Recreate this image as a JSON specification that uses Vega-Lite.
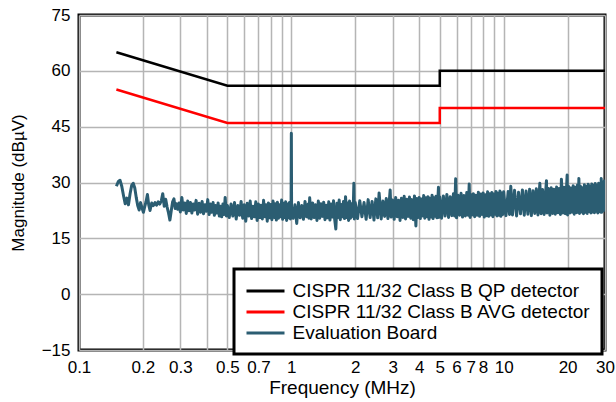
{
  "$schema": "https://vega.github.io/schema/vega-lite/v6.json",
  "width": 526,
  "height": 335,
  "autosize": "none",
  "padding": {"left": 79, "top": 15, "right": 11, "bottom": 52},
  "background": "white",
  "datasets": {
    "qp": [
      {"f": 0.15, "v": 65}, {"f": 0.5, "v": 56}, {"f": 5, "v": 56}, {"f": 5, "v": 60}, {"f": 30, "v": 60}
    ],
    "avg": [
      {"f": 0.15, "v": 55}, {"f": 0.5, "v": 46}, {"f": 5, "v": 46}, {"f": 5, "v": 50}, {"f": 30, "v": 50}
    ],
    "board": [
      {"f":0.150,"v":29.0},{"f":0.153,"v":30.2},{"f":0.156,"v":30.6},{"f":0.159,"v":29.0},{"f":0.162,"v":26.5},{"f":0.165,"v":24.3},{"f":0.168,"v":25.8},{"f":0.171,"v":24.0},{"f":0.174,"v":27.0},{"f":0.177,"v":29.2},{"f":0.180,"v":29.8},{"f":0.183,"v":28.6},{"f":0.186,"v":26.0},{"f":0.189,"v":23.8},{"f":0.192,"v":22.6},{"f":0.195,"v":24.6},{"f":0.198,"v":23.2},{"f":0.201,"v":22.0},{"f":0.204,"v":23.5},{"f":0.207,"v":24.9},{"f":0.210,"v":26.8},{"f":0.213,"v":24.0},{"f":0.216,"v":22.5},{"f":0.220,"v":24.5},{"f":0.224,"v":23.8},{"f":0.228,"v":24.6},{"f":0.232,"v":23.9},{"f":0.236,"v":24.8},{"f":0.240,"v":24.2},{"f":0.244,"v":25.0},{"f":0.248,"v":27.0},{"f":0.252,"v":23.6},{"f":0.256,"v":25.5},{"f":0.260,"v":23.4},{"f":0.264,"v":21.8},{"f":0.268,"v":19.9},{"f":0.272,"v":22.5},{"f":0.276,"v":24.8},{"f":0.280,"v":25.6},{"f":0.284,"v":23.0},{"f":0.288,"v":24.3},{"f":0.292,"v":22.8},{"f":0.296,"v":24.5},{"f":0.300,"v":22.1},{"f":0.305,"v":26.0},{"f":0.310,"v":22.6},{"f":0.315,"v":24.5},{"f":0.320,"v":21.7},{"f":0.325,"v":25.0},{"f":0.330,"v":22.4},{"f":0.335,"v":24.6},{"f":0.340,"v":21.8},{"f":0.345,"v":24.2},{"f":0.350,"v":22.6},{"f":0.356,"v":25.2},{"f":0.362,"v":21.5},{"f":0.368,"v":24.4},{"f":0.374,"v":22.0},{"f":0.380,"v":24.9},{"f":0.386,"v":21.6},{"f":0.392,"v":24.0},{"f":0.398,"v":22.3},{"f":0.404,"v":25.4},{"f":0.410,"v":21.4},{"f":0.416,"v":24.2},{"f":0.422,"v":22.0},{"f":0.428,"v":24.6},{"f":0.434,"v":21.2},{"f":0.440,"v":23.8},{"f":0.446,"v":21.8},{"f":0.452,"v":24.5},{"f":0.458,"v":21.0},{"f":0.464,"v":23.6},{"f":0.470,"v":20.8},{"f":0.476,"v":24.2},{"f":0.482,"v":21.4},{"f":0.488,"v":26.0},{"f":0.494,"v":21.0},{"f":0.500,"v":23.8},
      {"f":0.51,"v":20.6},{"f":0.52,"v":24.2},{"f":0.53,"v":21.0},{"f":0.54,"v":24.6},{"f":0.55,"v":20.2},{"f":0.56,"v":23.8},{"f":0.57,"v":21.2},{"f":0.58,"v":24.9},{"f":0.59,"v":20.4},{"f":0.60,"v":24.0},{"f":0.61,"v":19.6},{"f":0.62,"v":24.4},{"f":0.63,"v":21.0},{"f":0.64,"v":25.0},{"f":0.65,"v":20.3},{"f":0.66,"v":23.6},{"f":0.67,"v":20.8},{"f":0.68,"v":24.8},{"f":0.69,"v":19.8},{"f":0.70,"v":24.2},{"f":0.71,"v":20.6},{"f":0.72,"v":23.9},{"f":0.73,"v":20.2},{"f":0.74,"v":25.2},{"f":0.75,"v":20.8},{"f":0.76,"v":24.0},{"f":0.77,"v":19.6},{"f":0.78,"v":24.5},{"f":0.79,"v":20.5},{"f":0.80,"v":24.1},{"f":0.81,"v":20.0},{"f":0.82,"v":25.0},{"f":0.83,"v":20.6},{"f":0.84,"v":24.3},{"f":0.85,"v":19.9},{"f":0.86,"v":24.7},{"f":0.87,"v":20.4},{"f":0.88,"v":24.0},{"f":0.89,"v":20.8},{"f":0.90,"v":25.3},{"f":0.91,"v":20.1},{"f":0.92,"v":24.4},{"f":0.93,"v":20.6},{"f":0.94,"v":24.8},{"f":0.95,"v":19.8},{"f":0.96,"v":24.2},{"f":0.97,"v":20.5},{"f":0.98,"v":24.6},{"f":0.99,"v":20.2},{"f":0.997,"v":23.0},{"f":1.0,"v":43.2},{"f":1.003,"v":21.5},
      {"f":1.02,"v":20.4},{"f":1.04,"v":24.0},{"f":1.06,"v":19.0},{"f":1.08,"v":24.6},{"f":1.10,"v":20.5},{"f":1.12,"v":23.8},{"f":1.14,"v":20.1},{"f":1.16,"v":24.9},{"f":1.18,"v":20.8},{"f":1.20,"v":24.2},{"f":1.21,"v":20.4},{"f":1.22,"v":25.9},{"f":1.24,"v":20.2},{"f":1.26,"v":24.5},{"f":1.28,"v":20.6},{"f":1.30,"v":24.0},{"f":1.32,"v":19.8},{"f":1.34,"v":25.0},{"f":1.36,"v":20.4},{"f":1.38,"v":24.3},{"f":1.40,"v":20.9},{"f":1.42,"v":24.7},{"f":1.44,"v":20.0},{"f":1.46,"v":23.9},{"f":1.48,"v":20.5},{"f":1.50,"v":24.8},{"f":1.52,"v":19.9},{"f":1.54,"v":24.2},{"f":1.56,"v":20.7},{"f":1.58,"v":25.1},{"f":1.60,"v":20.1},{"f":1.62,"v":17.5},{"f":1.64,"v":24.4},{"f":1.66,"v":20.6},{"f":1.68,"v":25.3},{"f":1.70,"v":20.0},{"f":1.72,"v":24.1},{"f":1.74,"v":20.8},{"f":1.76,"v":24.9},{"f":1.78,"v":20.3},{"f":1.80,"v":26.2},{"f":1.82,"v":20.6},{"f":1.84,"v":24.5},{"f":1.86,"v":19.8},{"f":1.88,"v":25.0},{"f":1.90,"v":20.4},{"f":1.92,"v":24.3},{"f":1.94,"v":20.9},{"f":1.96,"v":24.8},{"f":1.97,"v":29.8},{"f":1.98,"v":20.2},{"f":2.00,"v":24.6},
      {"f":2.05,"v":20.3},{"f":2.10,"v":25.1},{"f":2.15,"v":20.8},{"f":2.20,"v":24.6},{"f":2.25,"v":20.1},{"f":2.30,"v":25.4},{"f":2.35,"v":20.6},{"f":2.40,"v":24.9},{"f":2.45,"v":19.9},{"f":2.50,"v":25.6},{"f":2.55,"v":20.5},{"f":2.59,"v":27.2},{"f":2.65,"v":20.2},{"f":2.70,"v":25.0},{"f":2.75,"v":20.9},{"f":2.80,"v":25.7},{"f":2.85,"v":20.3},{"f":2.92,"v":28.0},{"f":2.95,"v":20.7},{"f":3.00,"v":25.3},{"f":3.05,"v":20.1},{"f":3.10,"v":26.0},{"f":3.15,"v":20.8},{"f":3.20,"v":25.2},{"f":3.25,"v":19.8},{"f":3.30,"v":25.8},{"f":3.35,"v":20.6},{"f":3.40,"v":26.3},{"f":3.45,"v":20.2},{"f":3.50,"v":25.5},{"f":3.55,"v":20.9},{"f":3.60,"v":26.1},{"f":3.65,"v":20.4},{"f":3.70,"v":25.4},{"f":3.75,"v":20.0},{"f":3.80,"v":26.4},{"f":3.86,"v":18.3},{"f":3.90,"v":25.7},{"f":3.95,"v":20.6},{"f":4.00,"v":26.0},{"f":4.05,"v":20.3},{"f":4.10,"v":25.6},{"f":4.15,"v":21.0},{"f":4.20,"v":26.5},{"f":4.25,"v":20.4},{"f":4.30,"v":25.9},{"f":4.35,"v":20.8},{"f":4.40,"v":26.2},{"f":4.45,"v":20.1},{"f":4.50,"v":25.8},{"f":4.55,"v":20.7},{"f":4.60,"v":26.6},{"f":4.65,"v":20.3},{"f":4.70,"v":25.9},{"f":4.75,"v":20.9},{"f":4.80,"v":26.3},{"f":4.85,"v":20.5},{"f":4.93,"v":28.7},{"f":4.95,"v":20.6},{"f":5.00,"v":26.1},
      {"f":5.1,"v":20.4},{"f":5.2,"v":26.4},{"f":5.3,"v":21.0},{"f":5.4,"v":26.8},{"f":5.5,"v":20.6},{"f":5.6,"v":26.2},{"f":5.7,"v":21.1},{"f":5.8,"v":27.0},{"f":5.87,"v":21.0},{"f":5.94,"v":31.0},{"f":6.0,"v":20.5},{"f":6.1,"v":26.6},{"f":6.2,"v":21.2},{"f":6.3,"v":27.1},{"f":6.4,"v":20.7},{"f":6.5,"v":26.5},{"f":6.6,"v":21.0},{"f":6.7,"v":27.3},{"f":6.8,"v":21.2},{"f":6.88,"v":29.6},{"f":6.95,"v":20.6},{"f":7.0,"v":26.8},{"f":7.1,"v":21.3},{"f":7.2,"v":27.0},{"f":7.3,"v":20.8},{"f":7.4,"v":26.6},{"f":7.5,"v":21.2},{"f":7.6,"v":27.4},{"f":7.7,"v":20.9},{"f":7.8,"v":26.9},{"f":7.9,"v":21.4},{"f":8.0,"v":27.2},{"f":8.1,"v":20.7},{"f":8.2,"v":26.7},{"f":8.3,"v":21.1},{"f":8.4,"v":27.5},{"f":8.5,"v":20.9},{"f":8.6,"v":27.0},{"f":8.7,"v":21.3},{"f":8.8,"v":27.3},{"f":8.9,"v":20.8},{"f":9.0,"v":26.9},{"f":9.1,"v":21.5},{"f":9.2,"v":27.6},{"f":9.3,"v":21.0},{"f":9.4,"v":27.1},{"f":9.5,"v":21.2},{"f":9.6,"v":27.7},{"f":9.7,"v":20.9},{"f":9.8,"v":27.2},{"f":9.9,"v":21.4},{"f":10.0,"v":27.5},
      {"f":10.25,"v":21.1},{"f":10.5,"v":27.6},{"f":10.65,"v":21.4},{"f":10.8,"v":29.0},{"f":11.0,"v":21.3},{"f":11.25,"v":27.9},{"f":11.5,"v":21.0},{"f":11.75,"v":27.4},{"f":12.0,"v":21.6},{"f":12.25,"v":28.0},{"f":12.5,"v":21.2},{"f":12.75,"v":27.7},{"f":13.0,"v":21.5},{"f":13.25,"v":28.2},{"f":13.5,"v":21.1},{"f":13.75,"v":27.8},{"f":14.0,"v":21.7},{"f":14.25,"v":28.3},{"f":14.5,"v":21.3},{"f":14.8,"v":29.8},{"f":15.0,"v":21.6},{"f":15.25,"v":28.1},{"f":15.5,"v":21.4},{"f":15.9,"v":30.5},{"f":16.0,"v":21.8},{"f":16.25,"v":28.4},{"f":16.5,"v":21.2},{"f":16.75,"v":28.6},{"f":17.0,"v":21.7},{"f":17.25,"v":28.2},{"f":17.5,"v":21.5},{"f":17.75,"v":28.8},{"f":18.0,"v":21.9},{"f":18.25,"v":28.4},{"f":18.5,"v":21.4},{"f":18.7,"v":30.9},{"f":19.0,"v":21.8},{"f":19.25,"v":28.7},{"f":19.5,"v":21.6},{"f":19.9,"v":32.0},{"f":20.0,"v":21.3},{"f":20.25,"v":28.9},{"f":20.5,"v":21.8},{"f":20.75,"v":28.5},{"f":21.0,"v":22.0},{"f":21.25,"v":29.1},{"f":21.5,"v":21.5},{"f":21.75,"v":28.7},{"f":22.0,"v":21.9},{"f":22.25,"v":29.3},{"f":22.4,"v":22.0},{"f":22.6,"v":31.1},{"f":22.75,"v":21.7},{"f":23.0,"v":29.0},{"f":23.25,"v":22.1},{"f":23.5,"v":28.6},{"f":23.75,"v":21.6},{"f":24.0,"v":29.4},{"f":24.25,"v":22.0},{"f":24.5,"v":28.9},{"f":24.75,"v":21.7},{"f":25.0,"v":29.5},{"f":25.25,"v":22.2},{"f":25.5,"v":29.0},{"f":25.75,"v":21.8},{"f":26.0,"v":29.6},{"f":26.25,"v":22.1},{"f":26.5,"v":29.2},{"f":26.75,"v":21.9},{"f":27.0,"v":29.7},{"f":27.25,"v":22.3},{"f":27.5,"v":29.1},{"f":27.75,"v":21.8},{"f":28.0,"v":29.8},{"f":28.25,"v":22.2},{"f":28.5,"v":29.3},{"f":28.65,"v":22.0},{"f":28.8,"v":31.1},{"f":29.0,"v":22.0},{"f":29.25,"v":29.6},{"f":29.5,"v":22.4},{"f":29.75,"v":30.4},{"f":30.0,"v":23.0}
    ]
  },
  "encoding": {
    "x": {
      "field": "f", "type": "quantitative",
      "scale": {"type": "log", "domain": [0.1, 30], "nice": false},
      "axis": {
        "title": "Frequency (MHz)",
        "titleFontSize": 19,
        "values": [0.1,0.2,0.3,0.4,0.5,0.6,0.7,0.8,0.9,1,2,3,4,5,6,7,8,9,10,20,30],
        "format": "~g",
        "labelExpr": "(datum.value == 0.4 || datum.value == 0.6 || datum.value == 0.8 || datum.value == 0.9 || datum.value == 9) ? '' : datum.label",
        "labelOverlap": false,
        "labelFlush": false,
        "labelPadding": 9,
        "titlePadding": 3
      }
    },
    "y": {
      "field": "v", "type": "quantitative",
      "scale": {"domain": [-15, 75], "nice": false, "zero": false},
      "axis": {
        "title": "Magnitude (dBµV)",
        "values": [-15, 0, 15, 30, 45, 60, 75],
        "labelPadding": 9,
        "titlePadding": 14
      }
    },
    "color": {
      "scale": {
        "domain": ["CISPR 11/32 Class B QP detector", "CISPR 11/32 Class B AVG detector", "Evaluation Board"],
        "range": ["#000000", "#ff0000", "#2b5d72"]
      },
      "legend": {
        "title": null,
        "orient": "none",
        "legendX": 155,
        "legendY": 254,
        "fillColor": "white",
        "strokeColor": "black",
        "padding": 11,
        "symbolType": "M-2,0H2",
        "symbolSize": 361,
        "symbolStrokeWidth": 3,
        "symbolOffset": 9.5,
        "labelFontSize": 19,
        "labelOffset": 16,
        "labelLimit": 400,
        "rowPadding": 0
      }
    }
  },
  "layer": [
    {
      "data": {"name": "board"},
      "mark": {"type": "line", "strokeWidth": 3, "strokeJoin": "round", "clip": true},
      "encoding": {"color": {"datum": "Evaluation Board"}}
    },
    {
      "data": {"name": "qp"},
      "mark": {"type": "line", "strokeWidth": 2.5},
      "encoding": {"color": {"datum": "CISPR 11/32 Class B QP detector"}, "order": {"value": null}}
    },
    {
      "data": {"name": "avg"},
      "mark": {"type": "line", "strokeWidth": 2.5},
      "encoding": {"color": {"datum": "CISPR 11/32 Class B AVG detector"}, "order": {"value": null}}
    }
  ],
  "config": {
    "font": "Liberation Sans",
    "view": {"stroke": "#000000", "strokeWidth": 3},
    "axis": {
      "grid": true,
      "gridColor": "#b5b5b5",
      "gridWidth": 1.5,
      "ticks": false,
      "domain": false,
      "labelFontSize": 17,
      "labelColor": "#000000",
      "titleFontSize": 17,
      "titleFontWeight": "normal",
      "titleColor": "#000000"
    },
    "legend": {"strokeWidth": 3}
  }
}
